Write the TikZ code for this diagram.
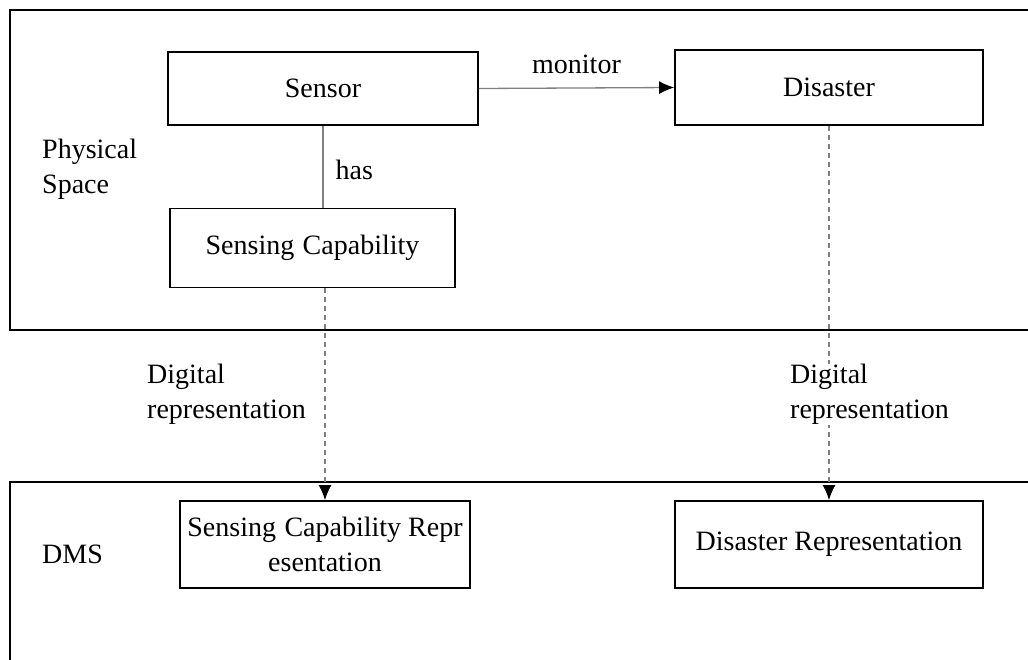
\documentclass[tikz,border=0pt]{standalone}
\usepackage{fontspec}
\setmainfont{Liberation Serif}
\usetikzlibrary{arrows.meta}
\begin{document}
\begin{tikzpicture}[x=1pt,y=-1pt,
  every node/.style={font=\fontsize{28}{35}\selectfont},
  region/.style={line width=2pt, draw=black},
  entity/.style={draw=black, line width=1.8pt, rectangle, inner sep=0pt, align=center},
  label/.style={align=left, inner sep=0pt, anchor=north west},
  conn/.style={draw=gray, line width=1.3pt},
  flow/.style={conn, -{Latex[length=15pt,width=13pt,color=black]}},
  represent/.style={flow, dash pattern=on 5pt off 4pt}]
  \useasboundingbox (0,0) rectangle (1028,660);

  % physical space and DMS regions (open to the right and bottom)
  \draw[region] (1028,10) -- (10,10) -- (10,330) -- (1028,330);
  \draw[region] (1028,482) -- (10,482) -- (10,660);

  % region captions
  \node[label] (physical) at (42,139) {Physical\\Space};
  \node[label] (dms) at (42,545) {DMS};

  % physical entities
  \node[entity, minimum width=310pt, minimum height=73pt] (sensor) at (323,88.5) {Sensor};
  \node[entity, minimum width=308pt, minimum height=75pt] (disaster) at (829,87.5) {Disaster};
  \node[entity, minimum width=285pt, minimum height=79pt] (senscap) at (312.5,248) {Sensing\hspace{0.3em}Capability};

  % digital representations
  \node[entity, minimum width=290pt, minimum height=87pt] (scr) at (325,544.5) {Sensing\hspace{0.3em}Capability Repr\\esentation};
  \node[entity, minimum width=308pt, minimum height=87pt] (dr) at (829,544.5) {Disaster Representation};

  % relations
  \draw[flow] (sensor.east) -- node[above=14pt, inner sep=0pt] (monitor) {monitor} (disaster.west);
  \draw[conn] (sensor.south) -- node[right=10pt, inner sep=2pt, yshift=-3pt] (has) {has} (sensor.south |- senscap.north);

  \draw[represent] (scr.north |- senscap.south) -- (scr.north);
  \draw[represent] (disaster.south) -- (dr.north);

  \node[label] (digital1) at (147,364) {Digital\\representation};
  \node[label, fill=white] (digital2) at (790,364) {Digital\\representation};
\end{tikzpicture}
\end{document}
